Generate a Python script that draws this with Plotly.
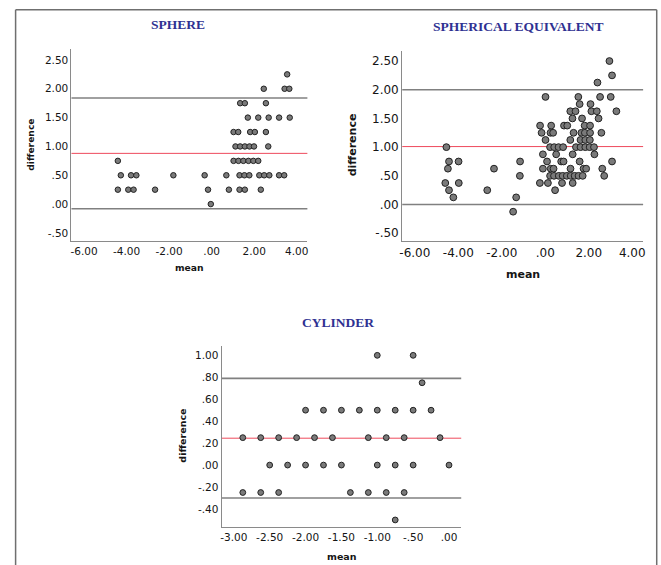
import plotly.graph_objects as go

W, H = 661, 565

# ---------------- DATA ----------------
# SPHERE: mean vs difference
sphere_mean = [3.55,
               2.45, 3.43, 3.65,
               1.34, 1.56, 2.55,
               1.70, 2.19, 2.68, 3.17, 3.67,
               1.03, 1.25, 1.81, 2.03, 2.55,
               1.12, 1.34, 1.56, 1.78, 1.99, 2.66,
               -4.41, 1.03, 1.26, 1.49, 1.73, 1.96, 2.19,
               -4.27, -3.79, -3.54, -1.80, -0.33, 0.69, 1.31, 1.54, 1.77, 2.24, 2.47, 2.71, 3.17, 3.41,
               -4.41, -3.92, -3.67, -2.66, -0.17, 0.81, 1.31, 1.56, 2.31,
               -0.04]
sphere_diff = [2.25,
               2.0, 2.0, 2.0,
               1.75, 1.75, 1.75,
               1.5, 1.5, 1.5, 1.5, 1.5,
               1.25, 1.25, 1.25, 1.25, 1.25,
               1.0, 1.0, 1.0, 1.0, 1.0, 1.0,
               0.75, 0.75, 0.75, 0.75, 0.75, 0.75, 0.75,
               0.5, 0.5, 0.5, 0.5, 0.5, 0.5, 0.5, 0.5, 0.5, 0.5, 0.5, 0.5, 0.5, 0.5,
               0.25, 0.25, 0.25, 0.25, 0.25, 0.25, 0.25, 0.25, 0.25,
               0.0]
sphere_lines = [1.84, 0.88, -0.08]   # upper LoA, mean, lower LoA

# SPHERICAL EQUIVALENT
se_mean = [2.95,
           3.07,
           2.40,
           0.01, 1.52, 2.52, 3.01,
           1.58, 2.08,
           1.15, 1.39, 2.12, 2.37, 3.27,
           1.25, 1.69, 2.45,
           -0.24, 0.27, 0.86, 1.01, 1.81, 2.06,
           -0.17, 0.24, 0.36, 1.30, 1.66, 1.82, 2.06, 2.58,
           0.01, 1.15, 1.62, 1.84, 2.05,
           -4.55, 0.22, 0.41, 0.61, 0.82, 1.41, 1.62, 1.84, 2.04, 2.24,
           -0.11, 0.50, 1.26, 2.26,
           -4.43, -3.99, -1.16, 0.08, 0.73, 0.84, 1.58, 3.07,
           -4.48, -2.36, -0.11, 0.25, 0.38, 1.16, 1.76, 1.88, 2.62,
           -1.17, 0.22, 0.40, 0.62, 0.80, 0.99, 1.17, 1.35, 1.53, 1.72, 2.71,
           -4.60, -3.98, -0.25, 0.12, 0.77, 1.26,
           -4.43, -2.67, 0.45,
           -4.23, -1.34,
           -1.48]
se_diff = [2.5,
           2.25,
           2.125,
           1.875, 1.875, 1.875, 1.875,
           1.75, 1.75,
           1.625, 1.625, 1.625, 1.625, 1.625,
           1.5, 1.5, 1.5,
           1.375, 1.375, 1.375, 1.375, 1.375, 1.375,
           1.25, 1.25, 1.25, 1.25, 1.25, 1.25, 1.25, 1.25,
           1.125, 1.125, 1.125, 1.125, 1.125,
           1.0, 1.0, 1.0, 1.0, 1.0, 1.0, 1.0, 1.0, 1.0, 1.0,
           0.875, 0.875, 0.875, 0.875,
           0.75, 0.75, 0.75, 0.75, 0.75, 0.75, 0.75, 0.75,
           0.625, 0.625, 0.625, 0.625, 0.625, 0.625, 0.625, 0.625, 0.625,
           0.5, 0.5, 0.5, 0.5, 0.5, 0.5, 0.5, 0.5, 0.5, 0.5, 0.5,
           0.375, 0.375, 0.375, 0.375, 0.375, 0.375,
           0.25, 0.25, 0.25,
           0.125, 0.125,
           -0.125]
se_lines = [2.00, 1.01, 0.00]

# CYLINDER
cyl_mean = [-1.0, -0.5,
            -0.375,
            -2.0, -1.75, -1.5, -1.25, -1.0, -0.75, -0.5, -0.25,
            -2.875, -2.625, -2.375, -2.125, -1.875, -1.625, -1.125, -0.875, -0.625, -0.125,
            -2.5, -2.25, -2.0, -1.75, -1.5, -1.0, -0.75, -0.5, 0.0,
            -2.875, -2.625, -2.375, -1.375, -1.125, -0.875, -0.625,
            -0.75]
cyl_diff = [1.0, 1.0,
            0.75,
            0.5, 0.5, 0.5, 0.5, 0.5, 0.5, 0.5, 0.5,
            0.25, 0.25, 0.25, 0.25, 0.25, 0.25, 0.25, 0.25, 0.25, 0.25,
            0.0, 0.0, 0.0, 0.0, 0.0, 0.0, 0.0, 0.0, 0.0,
            -0.25, -0.25, -0.25, -0.25, -0.25, -0.25, -0.25,
            -0.5]
cyl_lines = [0.79, 0.245, -0.30]

# tick labels
sp_xticks = [-6, -4, -2, 0, 2, 4]
sp_xlabels = ["-6.00", "-4.00", "-2.00", ".00", "2.00", "4.00"]
sp_yticks = [-0.5, 0, 0.5, 1.0, 1.5, 2.0, 2.5]
sp_ylabels = ["-.50", ".00", ".50", "1.00", "1.50", "2.00", "2.50"]
cy_xticks = [-3, -2.5, -2, -1.5, -1, -0.5, 0]
cy_xlabels = ["-3.00", "-2.50", "-2.00", "-1.50", "-1.00", "-.50", ".00"]
cy_yticks = [-0.4, -0.2, 0, 0.2, 0.4, 0.6, 0.8, 1.0]
cy_ylabels = ["-.40", "-.20", ".00", ".20", ".40", ".60", ".80", "1.00"]

titles = ["SPHERE", "SPHERICAL EQUIVALENT", "CYLINDER"]

# ---------------- STYLE ----------------
def px(x):
    return x / W

def py(y):
    return 1 - y / H

FILL = "#7a7a7a"
EDGE = "#222222"
LOA = "#808080"
RED = "#ee4a5c"
TXT = "#151515"
TITLE = "#2e3192"
FONT = "DejaVu Sans"

fig = go.Figure()

panels = [
    dict(x=sphere_mean, y=sphere_diff, lines=sphere_lines, xa="x", ya="y", msize=5.5),
    dict(x=se_mean, y=se_diff, lines=se_lines, xa="x2", ya="y2", msize=6.8),
    dict(x=cyl_mean, y=cyl_diff, lines=cyl_lines, xa="x3", ya="y3", msize=5.8),
]

shapes = []
for p in panels:
    fig.add_trace(go.Scatter(
        x=p["x"], y=p["y"], mode="markers", xaxis=p["xa"], yaxis=p["ya"],
        marker=dict(size=p["msize"], color=FILL, line=dict(color=EDGE, width=1)),
        showlegend=False, hoverinfo="x+y"))
    for i, v in enumerate(p["lines"]):
        shapes.append(dict(type="line", xref=p["xa"] + " domain", yref=p["ya"],
                           x0=0, x1=1, y0=v, y1=v, layer="below",
                           line=dict(color=RED if i == 1 else LOA,
                                     width=1 if i == 1 else 1.6)))

# outer frame
frame = dict(color="#6f6f6f", width=1.5)
shapes += [
    dict(type="line", xref="paper", yref="paper", x0=px(12.7), x1=px(658.7), y0=py(9.7), y1=py(9.7), line=frame),
    dict(type="line", xref="paper", yref="paper", x0=px(12.7), x1=px(12.7), y0=py(9.7), y1=0, line=frame),
    dict(type="line", xref="paper", yref="paper", x0=px(658.7), x1=px(658.7), y0=py(9.7), y1=0, line=frame),
]

def xax(domain, rng, tv, tt, fs):
    return dict(domain=domain, range=rng, tickvals=tv, ticktext=tt, showgrid=False,
                zeroline=False, showline=True, linecolor="#8a8a8a", linewidth=1.2,
                ticks="", tickfont=dict(family=FONT, size=fs, color=TXT), fixedrange=True)

layout = dict(
    width=W, height=H, autosize=False,
    margin=dict(l=0, r=0, t=0, b=0),
    paper_bgcolor="white", plot_bgcolor="white",
    showlegend=False,
    xaxis=xax([px(69), px(306.7)], [-6.59, 4.5], sp_xticks, sp_xlabels, 10.5),
    yaxis=xax([py(241), py(49)], [-0.64, 2.69], sp_yticks, sp_ylabels, 10.5),
    xaxis2=xax([px(402.3), px(645)], [-6.58, 4.5], sp_xticks, sp_xlabels, 12),
    yaxis2=xax([py(241), py(50.7)], [-0.635, 2.68], sp_yticks, sp_ylabels, 12),
    xaxis3=xax([px(220.3), px(461.7)], [-3.17, 0.17], cy_xticks, cy_xlabels, 10.5),
    yaxis3=xax([py(527.3), py(346)], [-0.567, 1.085], cy_yticks, cy_ylabels, 10.5),
    shapes=shapes,
)
layout["yaxis"]["anchor"] = "x"
layout["xaxis"]["anchor"] = "y"
layout["yaxis2"]["anchor"] = "x2"
layout["xaxis2"]["anchor"] = "y2"
layout["yaxis3"]["anchor"] = "x3"
layout["xaxis3"]["anchor"] = "y3"
fig.update_layout(**layout)

ann = []
# titles
for t, (cx, cy) in zip(titles, [(176, 25), (519, 26), (338, 322)]):
    ann.append(dict(text="<b>" + t + "</b>", x=px(cx), y=py(cy), xref="paper", yref="paper",
                    xanchor="center", yanchor="middle", showarrow=False, borderpad=0,
                    font=dict(family="Liberation Serif", size=13.5, color=TITLE)))
# axis titles
for (mx, my, dx, dy, fs) in [(188, 268, 28, 145, 9.2), (524, 274, 353, 145, 11), (342, 556, 180, 436, 9.5)]:
    ann.append(dict(text="<b>mean</b>", x=px(mx), y=py(my), xref="paper", yref="paper",
                    xanchor="center", yanchor="middle", showarrow=False, borderpad=0,
                    font=dict(family=FONT, size=fs, color=TXT)))
    ann.append(dict(text="<b>difference</b>", x=px(dx), y=py(dy), xref="paper", yref="paper",
                    xanchor="center", yanchor="middle", showarrow=False, textangle=-90, borderpad=0,
                    font=dict(family=FONT, size=fs, color=TXT)))
fig.update_layout(annotations=ann)

fig.write_html("out.html",
               config={"displayModeBar": False},
               post_script="document.body.style.margin='0';document.body.style.overflow='hidden';")
